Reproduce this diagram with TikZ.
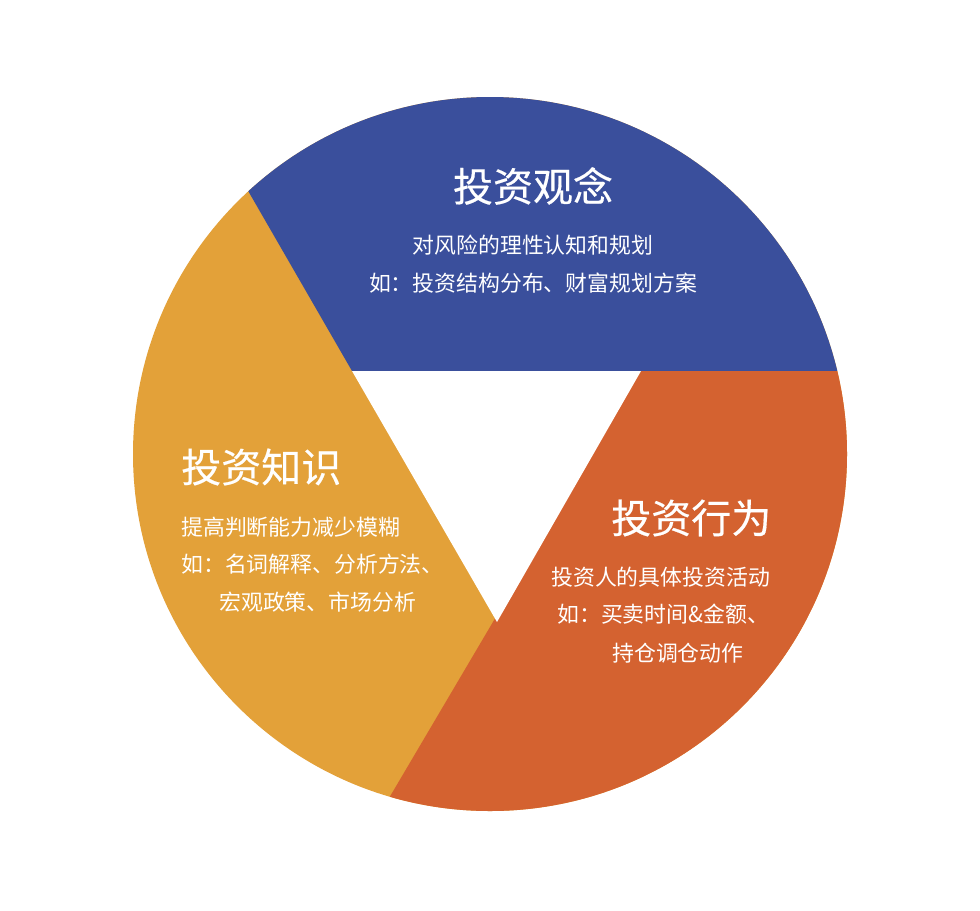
\documentclass[tikz,border=0pt]{standalone}
\usepackage{fontspec}
\setmainfont{Noto Sans CJK SC}
\newfontfamily\titlefont[FakeBold=0.4]{Noto Sans CJK SC}
\definecolor{cblue}{HTML}{3A4F9C}
\definecolor{corange}{HTML}{D46230}
\definecolor{cyellow}{HTML}{E3A139}
\begin{document}
\begin{tikzpicture}[x=0.75pt,y=-0.75pt,
  titletext/.style={text=white,font=\titlefont\fontsize{30}{36}\selectfont,inner sep=0pt},
  bodytext/.style={text=white,font=\fontsize{16.4}{20}\selectfont,inner sep=0pt}]
\useasboundingbox (0,0) rectangle (980,910);
\fill[white] (0,0) rectangle (980,910);
\coordinate (O) at (490,454);
\fill[cyellow] (O) circle[radius=357];
\begin{scope}
  \clip (O) circle[radius=357];
  \fill[cblue] (138,0) -- (352,371) -- (980,371) -- (980,0) -- cycle;
  \fill[corange] (641,371) -- (980,371) -- (980,910) -- (323,910) -- cycle;
\end{scope}
\fill[white] (352,371) -- (641,371) -- (497,622) -- cycle;
% blue
\node[titletext] (t1) at (533,186) {投资观念};
\node[bodytext] (t1a) at (533,245) {对风险的理性认知和规划};
\node[bodytext] (t1b) at (533,283) {如：投资结构分布、财富规划方案};
% yellow
\node[titletext,anchor=west] (t2) at (181,467) {投资知识};
\node[bodytext,anchor=west] (t2a) at (181,527) {提高判断能力减少模糊};
\node[bodytext,anchor=west] (t2b) at (181,564) {如：名词解释、分析方法、};
\node[bodytext,anchor=west] (t2c) at (219,602) {宏观政策、市场分析};
% orange
\node[titletext,anchor=west] (t3) at (611,518) {投资行为};
\node[bodytext,anchor=west] (t3a) at (551,577) {投资人的具体投资活动};
\node[bodytext,anchor=west] (t3b) at (557,614) {如：买卖时间\&金额、};
\node[bodytext,anchor=west] (t3c) at (612,653) {持仓调仓动作};
\end{tikzpicture}
\end{document}
